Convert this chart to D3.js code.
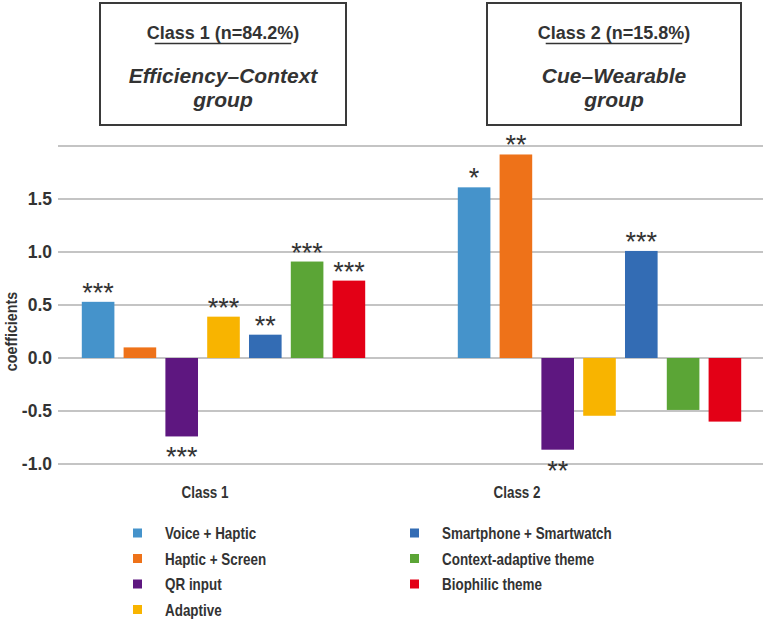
<!DOCTYPE html>
<html>
<head>
<meta charset="utf-8">
<script src="https://cdn.jsdelivr.net/npm/d3@7"></script>
<style>
  body { margin: 0; background: #fff; }
  svg { font-family: "Liberation Sans", Arial, sans-serif; }
</style>
</head>
<body>
<svg id="chart" width="767" height="622"></svg>
<script>
// data
const classes = ["Class 1", "Class 2"];
const series = ["Voice + Haptic", "Haptic + Screen", "QR input", "Adaptive",
  "Smartphone + Smartwatch", "Context-adaptive theme", "Biophilic theme"];
const colors = ["#4593cb", "#ee7219", "#5e1780", "#f8b400", "#336cb4", "#5ba536", "#e30016"];
const class1Values = [0.53, 0.10, -0.74, 0.39, 0.22, 0.91, 0.73];
const class2Values = [1.61, 1.92, -0.865, -0.545, 1.01, -0.49, -0.60];
const class1Stars = ["***", "", "***", "***", "**", "***", "***"];
const class2Stars = ["*", "**", "**", "", "***", "", ""];
const boxTitles = ["Class 1 (n=84.2%)", "Class 2 (n=15.8%)"];
const boxSubtitles = [["Efficiency\u2013Context", "group"], ["Cue\u2013Wearable", "group"]];
const yTicks = [-1.0, -0.5, 0.0, 0.5, 1.0, 1.5, 2.0];

const values = [class1Values, class2Values];
const stars = [class1Stars, class2Stars];

const svg = d3.select("#chart");
const left = 58, right = 763;
const textColor = "#333";
const squeeze = 0.84; // the original uses a condensed sans

const y = d3.scaleLinear().domain([-1, 2]).range([464, 146]);
const x = d3.scalePoint().domain(classes).range([223.5, 599.5]);
const xLabel = d3.scalePoint().domain(classes).range([205, 517]);
const xs = d3.scaleBand().domain(series).range([-146.3, 146.3])
  .paddingInner(0.22).paddingOuter(0.11);

// gridlines
svg.append("g")
  .selectAll("line")
  .data(yTicks)
  .enter()
  .append("line")
  .attr("x1", left)
  .attr("x2", right)
  .attr("y1", d => y(d))
  .attr("y2", d => y(d))
  .attr("stroke", "#b0b0b0")
  .attr("stroke-width", 1.6);

// y axis labels
svg.append("g")
  .selectAll("text")
  .data(yTicks.filter(d => d < 2))
  .enter()
  .append("text")
  .attr("x", 52)
  .attr("y", d => y(d) + 6)
  .attr("text-anchor", "end")
  .attr("font-size", 17.5)
  .attr("font-weight", "bold")
  .attr("fill", textColor)
  .text(d => d3.format(".1f")(d).replace("\u2212", "-"));

svg.append("text")
  .attr("transform", "translate(17," + y(0.25) + ")rotate(-90)scale(" + squeeze + ",1)")
  .attr("text-anchor", "middle")
  .attr("font-size", 17)
  .attr("font-weight", "bold")
  .attr("fill", textColor)
  .text("coefficients");

// bars
classes.forEach(function (c, ci) {
  const g = svg.append("g").attr("transform", "translate(" + x(c) + ",0)");

  g.selectAll("rect")
    .data(values[ci])
    .enter()
    .append("rect")
    .attr("x", (d, i) => xs(series[i]))
    .attr("width", xs.bandwidth())
    .attr("y", d => y(Math.max(0, d)))
    .attr("height", d => Math.abs(y(d) - y(0)))
    .attr("fill", (d, i) => colors[i]);

  g.selectAll("text")
    .data(values[ci])
    .enter()
    .append("text")
    .attr("x", (d, i) => xs(series[i]) + xs.bandwidth() / 2)
    .attr("y", d => d >= 0 ? y(d) : y(d) + 30)
    .attr("text-anchor", "middle")
    .attr("font-size", 27)
    .attr("fill", textColor)
    .text((d, i) => stars[ci][i]);

  svg.append("text")
    .attr("transform", "translate(" + xLabel(c) + ",498)scale(" + squeeze + ",1)")
    .attr("text-anchor", "middle")
    .attr("font-size", 16)
    .attr("font-weight", "bold")
    .attr("fill", textColor)
    .text(c);
});

// title boxes
const boxes = [[100, 346], [487, 741]];
boxes.forEach(function (b, bi) {
  const cx = (b[0] + b[1]) / 2;
  svg.append("rect")
    .attr("x", b[0])
    .attr("y", 3)
    .attr("width", b[1] - b[0])
    .attr("height", 122)
    .attr("fill", "#fff")
    .attr("stroke", "#3a3a3a")
    .attr("stroke-width", 2);

  const t = svg.append("text")
    .attr("x", cx)
    .attr("y", 39)
    .attr("text-anchor", "middle")
    .attr("font-size", 18)
    .attr("font-weight", "bold")
    .attr("fill", textColor)
    .text(boxTitles[bi]);
  const bb = t.node().getBBox();
  svg.append("line")
    .attr("x1", bb.x + 8)
    .attr("x2", bb.x + bb.width - 8)
    .attr("y1", 43.5)
    .attr("y2", 43.5)
    .attr("stroke", textColor)
    .attr("stroke-width", 1.5);

  boxSubtitles[bi].forEach(function (s, si) {
    svg.append("text")
      .attr("x", cx)
      .attr("y", 83 + si * 24)
      .attr("text-anchor", "middle")
      .attr("font-size", 21)
      .attr("font-weight", "bold")
      .attr("font-style", "italic")
      .attr("fill", textColor)
      .text(s);
  });
});

// legend
const legend = svg.append("g");
series.forEach(function (s, i) {
  const col = i < 4 ? 0 : 1;
  const row = i < 4 ? i : i - 4;
  const lx = col === 0 ? 133 : 410;
  const ly = 533 + row * 25.5;
  legend.append("rect")
    .attr("x", lx)
    .attr("y", ly - 4.5)
    .attr("width", 9)
    .attr("height", 9)
    .attr("fill", colors[i]);
  legend.append("text")
    .attr("transform", "translate(" + (lx + 32) + "," + (ly + 6) + ")scale(" + squeeze + ",1)")
    .attr("font-size", 16)
    .attr("font-weight", "bold")
    .attr("fill", textColor)
    .text(s);
});
</script>
</body>
</html>
